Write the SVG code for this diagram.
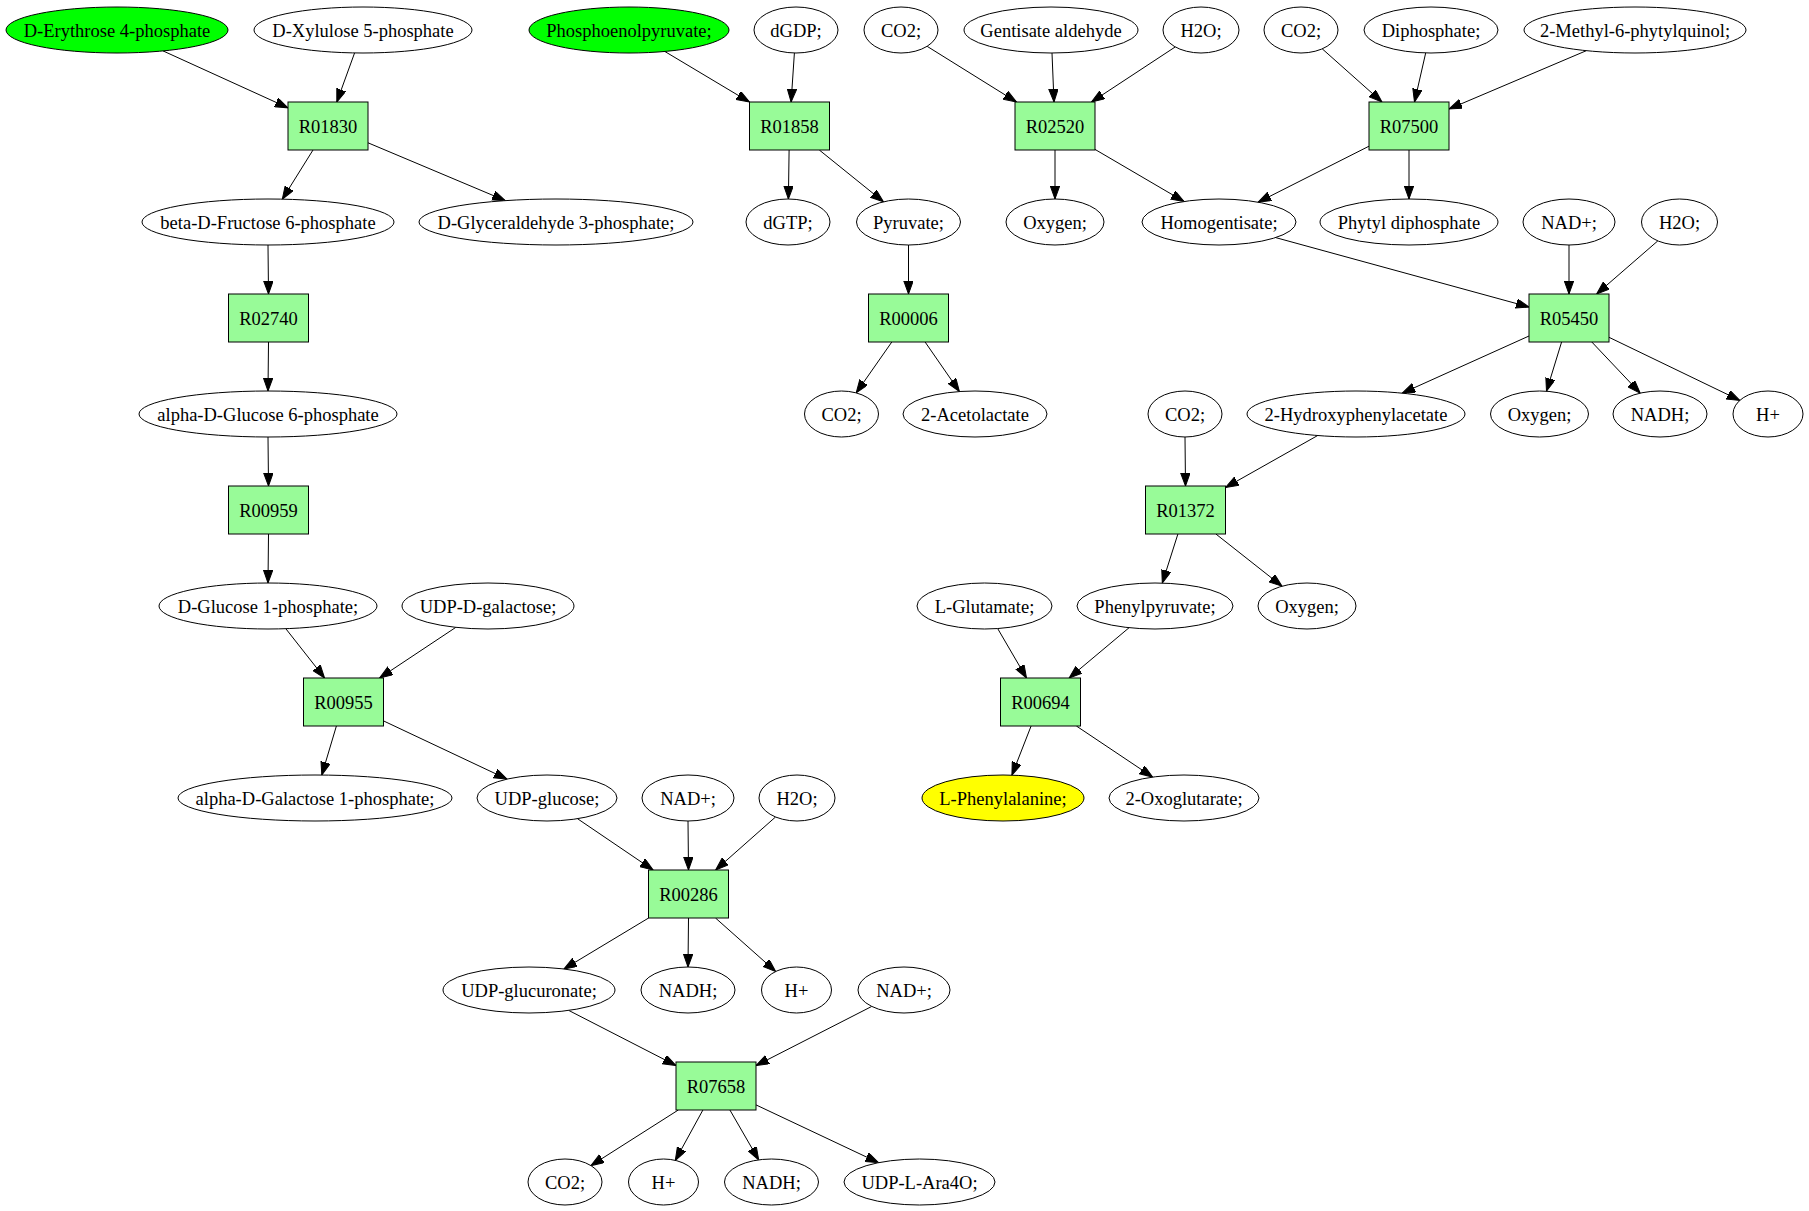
<svg xmlns="http://www.w3.org/2000/svg" width="1809" height="1211" viewBox="0 0 1809 1211">
<style>
.n ellipse{fill:#ffffff;stroke:#000;stroke-width:1}
.n ellipse.g{fill:#00ff00}
.n ellipse.y{fill:#ffff00}
.n rect{fill:#98fb98;stroke:#000;stroke-width:1}
.n text{font-family:"Liberation Serif","Times New Roman",serif;font-size:18.5px;text-anchor:middle;fill:#000}
#edges line{stroke:#000;stroke-width:1;marker-end:url(#ah)}
</style>
<defs>
<marker id="ah" markerUnits="userSpaceOnUse" markerWidth="14" markerHeight="10" refX="13" refY="4.7" orient="auto">
<path d="M0,0 L13,4.7 L0,9.4 z" fill="#000" stroke="#000" stroke-width="1"/>
</marker>
</defs>
<rect x="0" y="0" width="1809" height="1211" fill="#ffffff"/>
<g id="edges">
<line x1="163" y1="50.9" x2="288" y2="107.8"/>
<line x1="354.6" y1="52.9" x2="336.8" y2="102"/>
<line x1="313" y1="150" x2="282.3" y2="199.2"/>
<line x1="368" y1="142.8" x2="505.3" y2="200.6"/>
<line x1="664.9" y1="51.5" x2="749.5" y2="102.1"/>
<line x1="794.4" y1="53" x2="791.1" y2="102"/>
<line x1="789.1" y1="150" x2="788.4" y2="199"/>
<line x1="819.3" y1="150" x2="883.5" y2="201.8"/>
<line x1="927.1" y1="46.3" x2="1016.5" y2="102"/>
<line x1="1052" y1="53" x2="1054" y2="102"/>
<line x1="1175.3" y1="46.9" x2="1091.5" y2="102"/>
<line x1="1055" y1="150" x2="1055" y2="199"/>
<line x1="1095" y1="149.4" x2="1184" y2="201.5"/>
<line x1="1322.2" y1="48.8" x2="1382" y2="102"/>
<line x1="1425.7" y1="52.9" x2="1414.5" y2="102"/>
<line x1="1586.3" y1="50.7" x2="1449" y2="109"/>
<line x1="1369" y1="146.2" x2="1258.2" y2="202.2"/>
<line x1="1409" y1="150" x2="1409" y2="199"/>
<line x1="268" y1="245" x2="268.5" y2="294"/>
<line x1="268.5" y1="342" x2="268" y2="391"/>
<line x1="908.5" y1="245" x2="908.5" y2="294"/>
<line x1="891.8" y1="342" x2="856.2" y2="392.9"/>
<line x1="925.1" y1="342" x2="959.4" y2="391.5"/>
<line x1="1275.7" y1="237.6" x2="1529" y2="307"/>
<line x1="1569" y1="245" x2="1569" y2="294"/>
<line x1="1657.8" y1="240.9" x2="1596.6" y2="294"/>
<line x1="1529" y1="336" x2="1402.2" y2="393.2"/>
<line x1="1561.6" y1="342" x2="1546.5" y2="391.2"/>
<line x1="1591.8" y1="342" x2="1640.2" y2="393.1"/>
<line x1="1609" y1="337.3" x2="1739.8" y2="400.4"/>
<line x1="268" y1="437" x2="268.5" y2="486"/>
<line x1="268.5" y1="534" x2="268" y2="583"/>
<line x1="1185" y1="437" x2="1185.5" y2="486"/>
<line x1="1317.7" y1="435.5" x2="1225.5" y2="487.5"/>
<line x1="1177.9" y1="534" x2="1162.3" y2="583.1"/>
<line x1="1215.9" y1="534" x2="1282" y2="586.2"/>
<line x1="285.8" y1="628.7" x2="324.6" y2="678"/>
<line x1="455.9" y1="627.3" x2="379.6" y2="678"/>
<line x1="336.4" y1="726" x2="321.8" y2="775"/>
<line x1="383.5" y1="720.9" x2="507" y2="779.1"/>
<line x1="997.7" y1="628.6" x2="1026.5" y2="678"/>
<line x1="1129.1" y1="627.7" x2="1069.1" y2="678"/>
<line x1="1031.1" y1="726" x2="1011.9" y2="775.1"/>
<line x1="1076.4" y1="726" x2="1152.7" y2="777.1"/>
<line x1="577.5" y1="818.7" x2="653.1" y2="870"/>
<line x1="688" y1="821" x2="688.5" y2="870"/>
<line x1="775.5" y1="817" x2="715.6" y2="870"/>
<line x1="648.6" y1="918" x2="563.9" y2="969"/>
<line x1="688.5" y1="918" x2="688" y2="967"/>
<line x1="715.5" y1="918" x2="775.7" y2="971.5"/>
<line x1="568.7" y1="1010.4" x2="676" y2="1065.5"/>
<line x1="871.8" y1="1006.4" x2="756" y2="1065.6"/>
<line x1="678.3" y1="1110" x2="590.9" y2="1165.6"/>
<line x1="702.9" y1="1110" x2="675.3" y2="1160.4"/>
<line x1="729.9" y1="1110" x2="758.7" y2="1159.9"/>
<line x1="756" y1="1104.9" x2="878.5" y2="1162.7"/>
</g>
<g id="c_e4p" class="n"><ellipse class="g" cx="117" cy="30" rx="111" ry="23"/><text x="117" y="36.5">D-Erythrose 4-phosphate</text></g>
<g id="c_x5p" class="n"><ellipse cx="363" cy="30" rx="109" ry="23"/><text x="363" y="36.5">D-Xylulose 5-phosphate</text></g>
<g id="c_pep" class="n"><ellipse class="g" cx="629" cy="30" rx="100" ry="23"/><text x="629" y="36.5">Phosphoenolpyruvate;</text></g>
<g id="c_dgdp" class="n"><ellipse cx="796" cy="30" rx="42" ry="23"/><text x="796" y="36.5">dGDP;</text></g>
<g id="c_co2_a" class="n"><ellipse cx="901" cy="30" rx="37" ry="23"/><text x="901" y="36.5">CO2;</text></g>
<g id="c_gentald" class="n"><ellipse cx="1051" cy="30" rx="87" ry="23"/><text x="1051" y="36.5">Gentisate aldehyde</text></g>
<g id="c_h2o_a" class="n"><ellipse cx="1201" cy="30" rx="38" ry="23"/><text x="1201" y="36.5">H2O;</text></g>
<g id="c_co2_b" class="n"><ellipse cx="1301" cy="30" rx="37" ry="23"/><text x="1301" y="36.5">CO2;</text></g>
<g id="c_ppi" class="n"><ellipse cx="1431" cy="30" rx="67" ry="23"/><text x="1431" y="36.5">Diphosphate;</text></g>
<g id="c_mpq" class="n"><ellipse cx="1635" cy="30" rx="111" ry="23"/><text x="1635" y="36.5">2-Methyl-6-phytylquinol;</text></g>
<g id="R01830" class="n"><rect x="288" y="102" width="80" height="48"/><text x="328" y="132.5">R01830</text></g>
<g id="R01858" class="n"><rect x="749.5" y="102" width="80" height="48"/><text x="789.5" y="132.5">R01858</text></g>
<g id="R02520" class="n"><rect x="1015" y="102" width="80" height="48"/><text x="1055" y="132.5">R02520</text></g>
<g id="R07500" class="n"><rect x="1369" y="102" width="80" height="48"/><text x="1409" y="132.5">R07500</text></g>
<g id="c_f6p" class="n"><ellipse cx="268" cy="222" rx="126" ry="23"/><text x="268" y="228.5">beta-D-Fructose 6-phosphate</text></g>
<g id="c_g3p" class="n"><ellipse cx="556" cy="222" rx="137" ry="23"/><text x="556" y="228.5">D-Glyceraldehyde 3-phosphate;</text></g>
<g id="c_dgtp" class="n"><ellipse cx="788" cy="222" rx="42" ry="23"/><text x="788" y="228.5">dGTP;</text></g>
<g id="c_pyr" class="n"><ellipse cx="908.5" cy="222" rx="52" ry="23"/><text x="908.5" y="228.5">Pyruvate;</text></g>
<g id="c_o2_a" class="n"><ellipse cx="1055" cy="222" rx="49" ry="23"/><text x="1055" y="228.5">Oxygen;</text></g>
<g id="c_hga" class="n"><ellipse cx="1219" cy="222" rx="77" ry="23"/><text x="1219" y="228.5">Homogentisate;</text></g>
<g id="c_phdp" class="n"><ellipse cx="1409" cy="222" rx="89" ry="23"/><text x="1409" y="228.5">Phytyl diphosphate</text></g>
<g id="c_nad_a" class="n"><ellipse cx="1569" cy="222" rx="46" ry="23"/><text x="1569" y="228.5">NAD+;</text></g>
<g id="c_h2o_b" class="n"><ellipse cx="1679.5" cy="222" rx="38" ry="23"/><text x="1679.5" y="228.5">H2O;</text></g>
<g id="R02740" class="n"><rect x="228.5" y="294" width="80" height="48"/><text x="268.5" y="324.5">R02740</text></g>
<g id="R00006" class="n"><rect x="868.5" y="294" width="80" height="48"/><text x="908.5" y="324.5">R00006</text></g>
<g id="R05450" class="n"><rect x="1529" y="294" width="80" height="48"/><text x="1569" y="324.5">R05450</text></g>
<g id="c_g6p" class="n"><ellipse cx="268" cy="414" rx="129" ry="23"/><text x="268" y="420.5">alpha-D-Glucose 6-phosphate</text></g>
<g id="c_co2_c" class="n"><ellipse cx="841.5" cy="414" rx="37" ry="23"/><text x="841.5" y="420.5">CO2;</text></g>
<g id="c_acl" class="n"><ellipse cx="975" cy="414" rx="72" ry="23"/><text x="975" y="420.5">2-Acetolactate</text></g>
<g id="c_co2_d" class="n"><ellipse cx="1185" cy="414" rx="37" ry="23"/><text x="1185" y="420.5">CO2;</text></g>
<g id="c_hpa" class="n"><ellipse cx="1356" cy="414" rx="109" ry="23"/><text x="1356" y="420.5">2-Hydroxyphenylacetate</text></g>
<g id="c_o2_b" class="n"><ellipse cx="1539.5" cy="414" rx="49" ry="23"/><text x="1539.5" y="420.5">Oxygen;</text></g>
<g id="c_nadh_a" class="n"><ellipse cx="1660" cy="414" rx="47" ry="23"/><text x="1660" y="420.5">NADH;</text></g>
<g id="c_h_a" class="n"><ellipse cx="1768" cy="414" rx="35" ry="23"/><text x="1768" y="420.5">H+</text></g>
<g id="R00959" class="n"><rect x="228.5" y="486" width="80" height="48"/><text x="268.5" y="516.5">R00959</text></g>
<g id="R01372" class="n"><rect x="1145.5" y="486" width="80" height="48"/><text x="1185.5" y="516.5">R01372</text></g>
<g id="c_g1p" class="n"><ellipse cx="268" cy="606" rx="109" ry="23"/><text x="268" y="612.5">D-Glucose 1-phosphate;</text></g>
<g id="c_udpgal" class="n"><ellipse cx="488" cy="606" rx="86" ry="23"/><text x="488" y="612.5">UDP-D-galactose;</text></g>
<g id="c_glu" class="n"><ellipse cx="984.5" cy="606" rx="67.5" ry="23"/><text x="984.5" y="612.5">L-Glutamate;</text></g>
<g id="c_phpyr" class="n"><ellipse cx="1155" cy="606" rx="78" ry="23"/><text x="1155" y="612.5">Phenylpyruvate;</text></g>
<g id="c_o2_c" class="n"><ellipse cx="1307" cy="606" rx="49" ry="23"/><text x="1307" y="612.5">Oxygen;</text></g>
<g id="R00955" class="n"><rect x="303.5" y="678" width="80" height="48"/><text x="343.5" y="708.5">R00955</text></g>
<g id="R00694" class="n"><rect x="1000.5" y="678" width="80" height="48"/><text x="1040.5" y="708.5">R00694</text></g>
<g id="c_gal1p" class="n"><ellipse cx="315" cy="798" rx="137" ry="23"/><text x="315" y="804.5">alpha-D-Galactose 1-phosphate;</text></g>
<g id="c_udpglc" class="n"><ellipse cx="547" cy="798" rx="70" ry="23"/><text x="547" y="804.5">UDP-glucose;</text></g>
<g id="c_nad_b" class="n"><ellipse cx="688" cy="798" rx="46" ry="23"/><text x="688" y="804.5">NAD+;</text></g>
<g id="c_h2o_c" class="n"><ellipse cx="797" cy="798" rx="38" ry="23"/><text x="797" y="804.5">H2O;</text></g>
<g id="c_phe" class="n"><ellipse class="y" cx="1003" cy="798" rx="81" ry="23"/><text x="1003" y="804.5">L-Phenylalanine;</text></g>
<g id="c_akg" class="n"><ellipse cx="1184" cy="798" rx="75" ry="23"/><text x="1184" y="804.5">2-Oxoglutarate;</text></g>
<g id="R00286" class="n"><rect x="648.5" y="870" width="80" height="48"/><text x="688.5" y="900.5">R00286</text></g>
<g id="c_udpgca" class="n"><ellipse cx="529" cy="990" rx="86" ry="23"/><text x="529" y="996.5">UDP-glucuronate;</text></g>
<g id="c_nadh_b" class="n"><ellipse cx="688" cy="990" rx="47" ry="23"/><text x="688" y="996.5">NADH;</text></g>
<g id="c_h_b" class="n"><ellipse cx="796.5" cy="990" rx="35" ry="23"/><text x="796.5" y="996.5">H+</text></g>
<g id="c_nad_c" class="n"><ellipse cx="904" cy="990" rx="46" ry="23"/><text x="904" y="996.5">NAD+;</text></g>
<g id="R07658" class="n"><rect x="676" y="1062" width="80" height="48"/><text x="716" y="1092.5">R07658</text></g>
<g id="c_co2_e" class="n"><ellipse cx="565" cy="1182" rx="37" ry="23"/><text x="565" y="1188.5">CO2;</text></g>
<g id="c_h_c" class="n"><ellipse cx="663.5" cy="1182" rx="35" ry="23"/><text x="663.5" y="1188.5">H+</text></g>
<g id="c_nadh_c" class="n"><ellipse cx="771.5" cy="1182" rx="47" ry="23"/><text x="771.5" y="1188.5">NADH;</text></g>
<g id="c_udpara" class="n"><ellipse cx="919.5" cy="1182" rx="75.5" ry="23"/><text x="919.5" y="1188.5">UDP-L-Ara4O;</text></g>
</svg>
